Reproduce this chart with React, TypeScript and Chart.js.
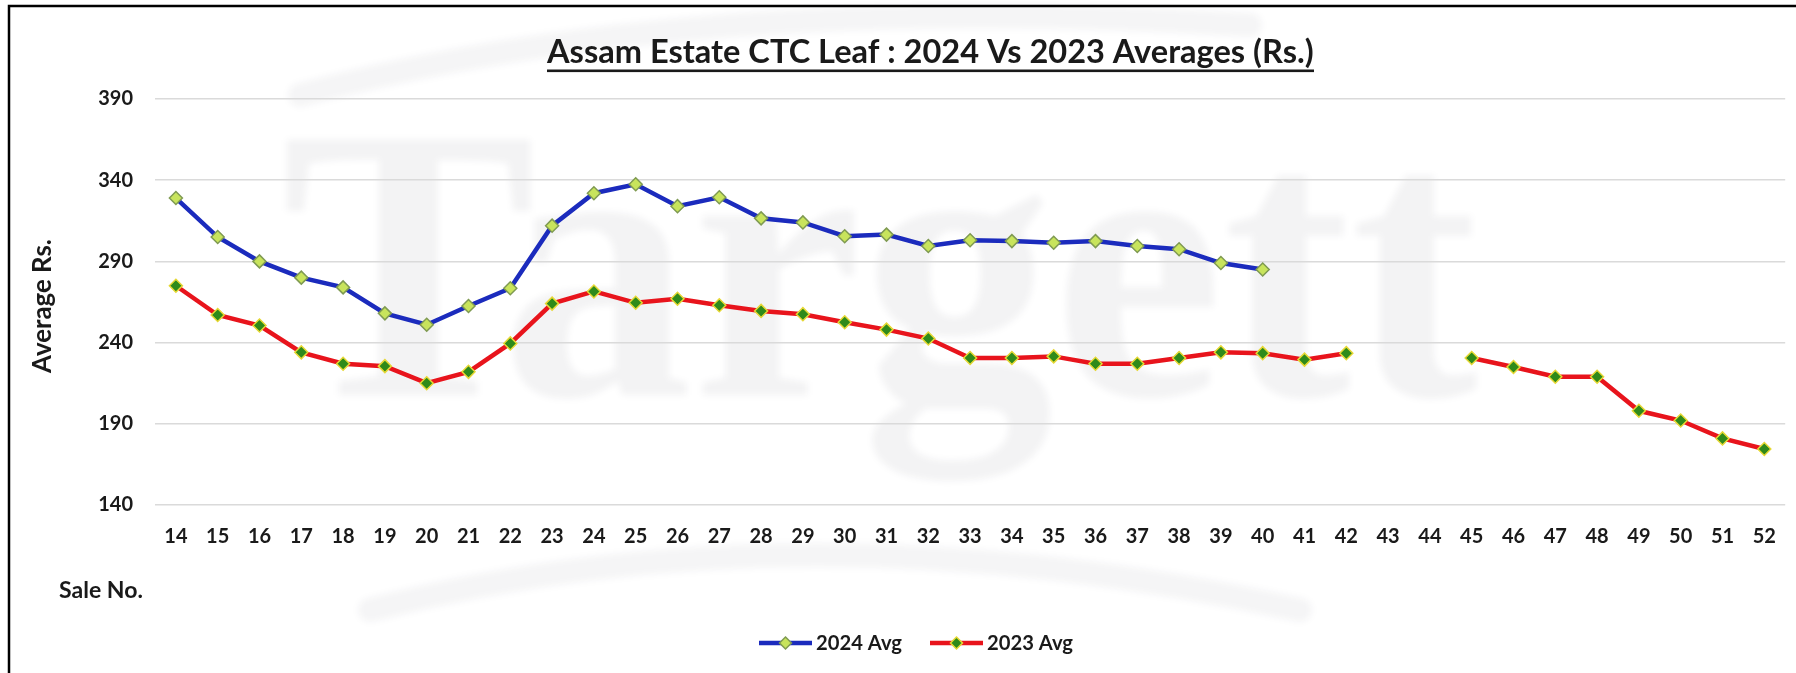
import React, { useEffect, useRef } from "react";
import { Chart, registerables } from "chart.js";

Chart.register(...registerables);

// ---------- data ----------
const saleNos = [
  "14", "15", "16", "17", "18", "19", "20", "21", "22", "23", "24", "25", "26",
  "27", "28", "29", "30", "31", "32", "33", "34", "35", "36", "37", "38", "39",
  "40", "41", "42", "43", "44", "45", "46", "47", "48", "49", "50", "51", "52",
];

const avg2024: (number | null)[] = [
  329, 305, 290, 280, 274, 258, 251, 262.5, 273.5, 312, 332, 337.5, 324,
  329.5, 316.5, 314, 305.5, 306.5, 299.5, 303, 302.5, 301.5, 302.5, 299.5, 297.5, 289,
  285, null, null, null, null, null, null, null, null, null, null, null, null,
];

const avg2023: (number | null)[] = [
  275, 257, 250.5, 234, 227, 225.5, 215, 222, 239.5, 264, 271.5, 264.5, 267,
  263, 259.5, 257.5, 252.5, 248, 242.5, 230.5, 230.5, 231.5, 227, 227, 230.5, 234,
  233.5, 229.5, 233.5, null, null, 230.5, 225, 219, 219, 198, 192, 181, 174.5,
];

const seriesLabels = ["2024 Avg", "2023 Avg"];
const yMin = 140;
const yMax = 390;
const yStep = 50;

const chartTitle = "Assam Estate CTC Leaf : 2024 Vs 2023 Averages (Rs.)";
const yAxisTitle = "Average Rs.";
const xAxisTitle = "Sale No.";
const watermarkText = "Targett";

// ---------- styles ----------
const W = 1796;
const H = 673;
const FONT = "Lato, 'Open Sans', 'DejaVu Sans', sans-serif";
const TEXT = "#1a1a1a";

function fitSize(ctx: CanvasRenderingContext2D, text: string, width: number, weight: string, family: string) {
  const base = 40;
  ctx.font = `${weight} ${base}px ${family}`;
  const w = ctx.measureText(text).width;
  return (base * width) / w;
}

function drawDiamond(ctx: CanvasRenderingContext2D, x: number, y: number, r: number, fill: string, stroke: string) {
  ctx.beginPath();
  ctx.moveTo(x, y - r);
  ctx.lineTo(x + r, y);
  ctx.lineTo(x, y + r);
  ctx.lineTo(x - r, y);
  ctx.closePath();
  ctx.fillStyle = fill;
  ctx.fill();
  ctx.lineWidth = 1.5;
  ctx.strokeStyle = stroke;
  ctx.stroke();
}

const decorPlugin = {
  id: "decor",
  beforeDraw(chart: any) {
    const ctx: CanvasRenderingContext2D = chart.ctx;
    ctx.save();
    ctx.fillStyle = "#ffffff";
    ctx.fillRect(0, 0, chart.width, chart.height);

    // faint watermark
    ctx.filter = "blur(3px)";
    ctx.fillStyle = "rgba(20,20,40,0.05)";
    ctx.font = "bold 390px 'Liberation Serif', 'DejaVu Serif', serif";
    const mw = ctx.measureText(watermarkText).width;
    const targetW = 1197;
    ctx.translate(281, 395);
    ctx.scale(targetW / mw, 1);
    ctx.textBaseline = "alphabetic";
    ctx.textAlign = "left";
    ctx.fillText(watermarkText, 0, 0);
    ctx.restore();

    // faint swooshes
    ctx.save();
    ctx.filter = "blur(3px)";
    ctx.strokeStyle = "rgba(20,20,40,0.045)";
    ctx.lineCap = "round";
    ctx.lineWidth = 24;
    ctx.beginPath();
    ctx.moveTo(300, 95);
    ctx.quadraticCurveTo(700, -10, 1250, 25);
    ctx.stroke();
    ctx.beginPath();
    ctx.moveTo(370, 610);
    ctx.quadraticCurveTo(800, 500, 1300, 610);
    ctx.stroke();
    ctx.restore();
  },
  afterDraw(chart: any) {
    const ctx: CanvasRenderingContext2D = chart.ctx;
    ctx.save();

    // frame (left and top visible)
    ctx.strokeStyle = "#000";
    ctx.lineWidth = 2.5;
    ctx.beginPath();
    ctx.moveTo(9, H + 5);
    ctx.lineTo(9, 6);
    ctx.lineTo(W + 5, 6);
    ctx.stroke();

    // title
    const tSize = fitSize(ctx, chartTitle, 767, "bold", FONT);
    ctx.font = `bold ${tSize}px ${FONT}`;
    ctx.fillStyle = TEXT;
    ctx.textAlign = "left";
    ctx.textBaseline = "alphabetic";
    ctx.fillText(chartTitle, 547, 63);
    ctx.fillRect(547, 69.5, 767, 2.6);

    // y axis title
    const ySize = fitSize(ctx, yAxisTitle, 134, "bold", FONT);
    ctx.save();
    ctx.translate(43, 306);
    ctx.rotate(-Math.PI / 2);
    ctx.font = `bold ${ySize}px ${FONT}`;
    ctx.textAlign = "center";
    ctx.textBaseline = "middle";
    ctx.fillText(yAxisTitle, 0, 0);
    ctx.restore();

    // x axis title
    const xSize = fitSize(ctx, xAxisTitle, 84, "bold", FONT);
    ctx.font = `bold ${xSize}px ${FONT}`;
    ctx.textAlign = "left";
    ctx.textBaseline = "middle";
    ctx.fillText(xAxisTitle, 59, 591);

    // legend
    const legendX = [759, 930];
    const ly = 643;
    chart.data.datasets.forEach((ds: any, i: number) => {
      const x0 = legendX[i];
      ctx.strokeStyle = ds.borderColor;
      ctx.lineWidth = 4.5;
      ctx.beginPath();
      ctx.moveTo(x0, ly);
      ctx.lineTo(x0 + 53, ly);
      ctx.stroke();
      drawDiamond(ctx, x0 + 26.5, ly, 6, ds.pointBackgroundColor, ds.pointBorderColor);
      const s = fitSize(ctx, ds.label, 86, "bold", FONT);
      ctx.font = `bold ${s}px ${FONT}`;
      ctx.fillStyle = TEXT;
      ctx.textAlign = "left";
      ctx.textBaseline = "middle";
      ctx.fillText(ds.label, x0 + 57, ly);
    });

    ctx.restore();
  },
};

export default function App() {
  const ref = useRef<HTMLCanvasElement>(null);

  useEffect(() => {
    const canvas = ref.current;
    if (!canvas) return;
    const chart = new Chart(canvas, {
      type: "line",
      data: {
        labels: saleNos,
        datasets: [
          {
            label: seriesLabels[0],
            data: avg2024,
            borderColor: "#1b2bbd",
            borderWidth: 4.5,
            pointStyle: "rectRot",
            pointRadius: 6.5,
            pointBorderWidth: 1.5,
            pointBackgroundColor: "#c8e45c",
            pointBorderColor: "#7f9a52",
            tension: 0,
            spanGaps: false,
          },
          {
            label: seriesLabels[1],
            data: avg2023,
            borderColor: "#e8141c",
            borderWidth: 4.5,
            pointStyle: "rectRot",
            pointRadius: 6.5,
            pointBorderWidth: 1.5,
            pointBackgroundColor: "#2f8a1a",
            pointBorderColor: "#e6d834",
            tension: 0,
            spanGaps: false,
          },
        ],
      },
      options: {
        responsive: false,
        animation: false,
        devicePixelRatio: 1,
        layout: { padding: { top: 99, bottom: 118, left: 0, right: -3 } },
        plugins: {
          legend: { display: false },
          title: { display: false },
          tooltip: { enabled: false },
        },
        scales: {
          x: {
            type: "category",
            offset: true,
            grid: { display: false, drawTicks: false },
            border: { display: false },
            ticks: {
              padding: 20,
              color: TEXT,
              font: { family: FONT, size: 20, weight: "bold" },
              maxRotation: 0,
              autoSkip: false,
            },
            afterFit: (scale: any) => {
              scale.height = 50;
            },
          },
          y: {
            min: yMin,
            max: yMax,
            ticks: {
              stepSize: yStep,
              padding: 22,
              color: TEXT,
              font: { family: FONT, size: 20, weight: "bold" },
            },
            grid: { color: "#dadada", lineWidth: 1.6, drawTicks: false },
            border: { display: false },
            afterFit: (scale: any) => {
              scale.width = 155;
            },
          },
        },
      },
      plugins: [decorPlugin],
    } as any);
    return () => chart.destroy();
  }, []);

  return (
    <canvas
      ref={ref}
      width={W}
      height={H}
      style={{ position: "fixed", left: 0, top: 0, width: W, height: H, display: "block" }}
    />
  );
}
